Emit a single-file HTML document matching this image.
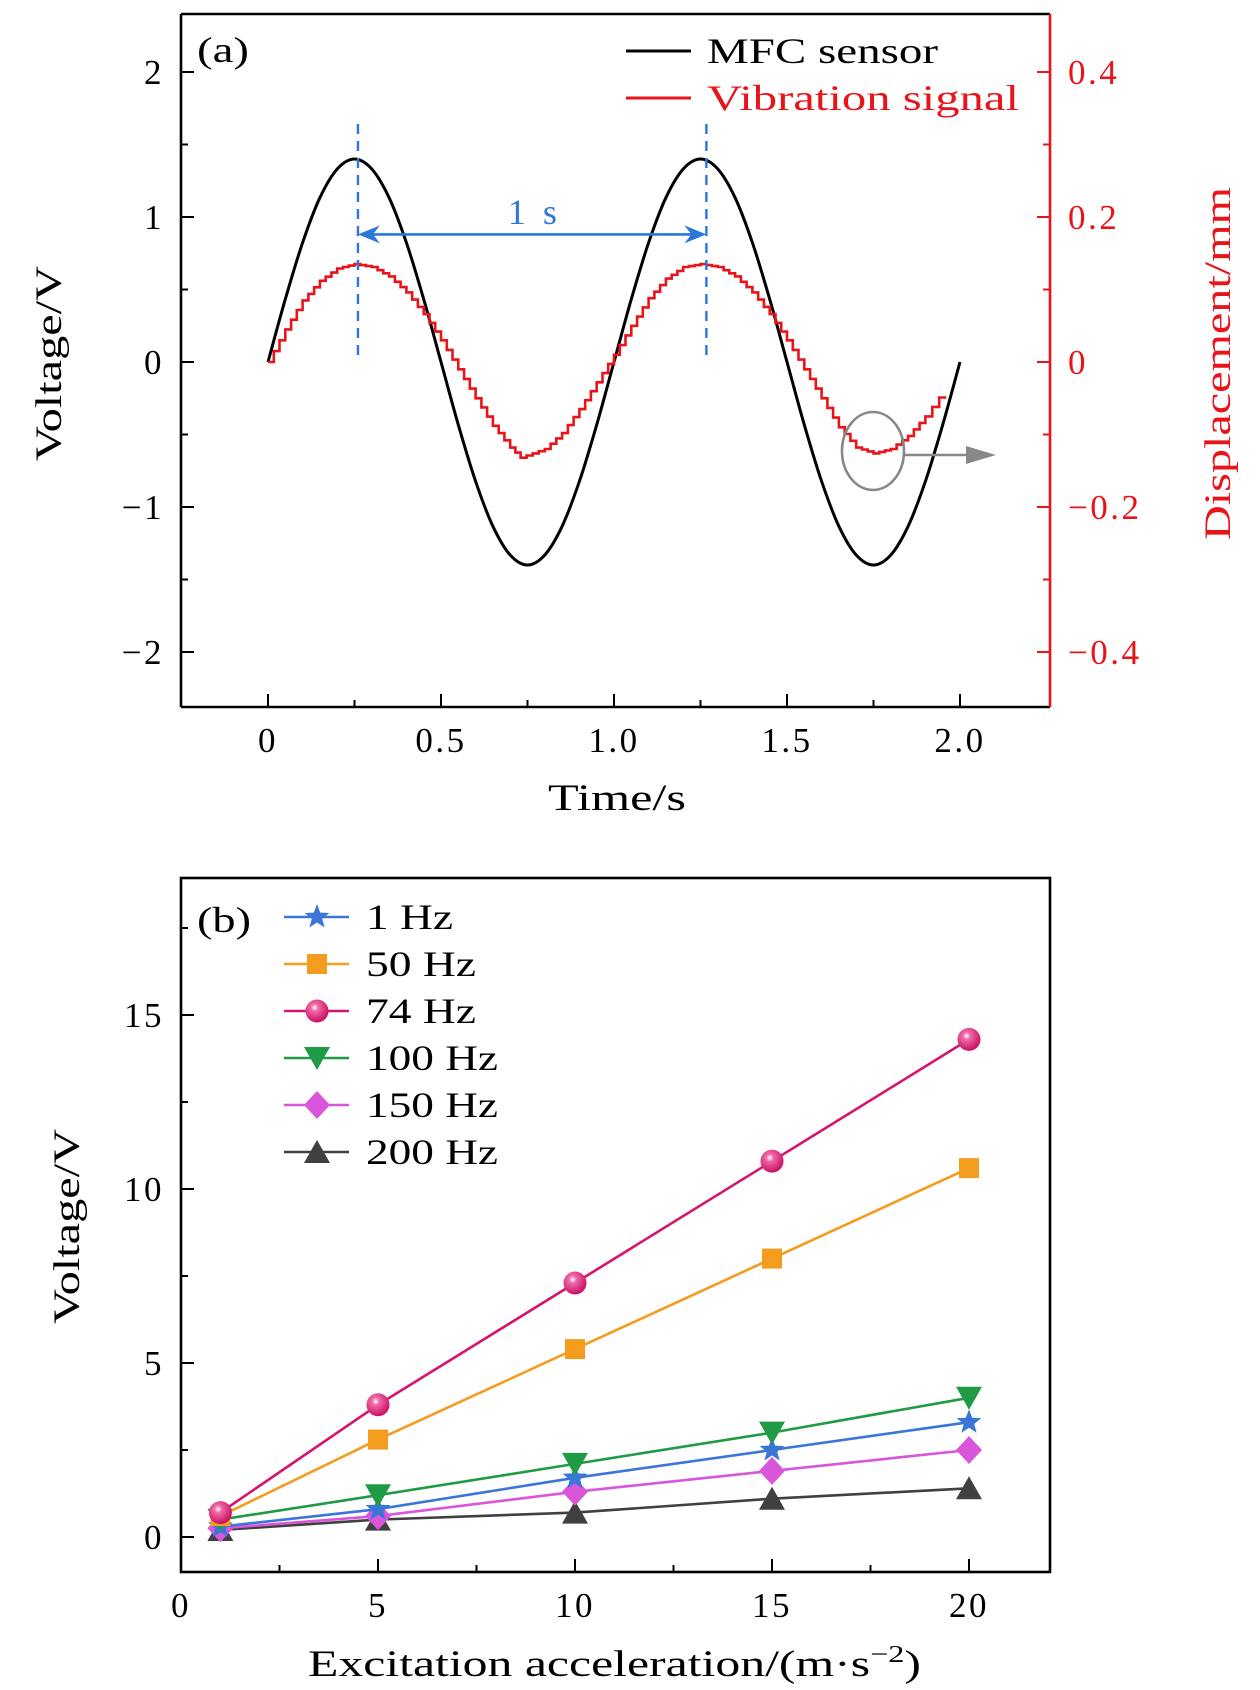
<!DOCTYPE html>
<html><head><meta charset="utf-8"><style>
html,body{margin:0;padding:0;background:#fff}
svg{display:block}
text{font-family:"Liberation Serif",serif}
</style></head><body>
<svg id="fig" width="1260" height="1690" viewBox="0 0 1260 1690" xmlns="http://www.w3.org/2000/svg">
<defs>
<radialGradient id="ball" cx="0.4" cy="0.35" r="0.65">
<stop offset="0" stop-color="#fff"/><stop offset="0.25" stop-color="#f06aa8"/><stop offset="1" stop-color="#c80f62"/>
</radialGradient>
</defs>
<g id="pa"></g>
<g id="pb"></g>
</svg>
<script>
// ---------- Panel (a) data ----------
const timeA = [0,0.05,0.1,0.15,0.2,0.25,0.3,0.35,0.4,0.45,0.5,0.55,0.6,0.65,0.7,0.75,0.8,0.85,0.9,0.95,1.0,1.05,1.1,1.15,1.2,1.25,1.3,1.35,1.4,1.45,1.5,1.55,1.6,1.65,1.7,1.75,1.8,1.85,1.9,1.95,2.0];
const mfcVoltage = [0,0.433,0.823,1.133,1.331,1.4,1.331,1.133,0.823,0.433,0,-0.433,-0.823,-1.133,-1.331,-1.4,-1.331,-1.133,-0.823,-0.433,0,0.433,0.823,1.133,1.331,1.4,1.331,1.133,0.823,0.433,0,-0.433,-0.823,-1.133,-1.331,-1.4,-1.331,-1.133,-0.823,-0.433,0];
const vibTime = [0,0.05,0.1,0.15,0.2,0.25,0.3,0.35,0.4,0.45,0.5,0.55,0.6,0.65,0.7,0.73,0.8,0.85,0.9,0.95,1.0,1.05,1.1,1.15,1.2,1.25,1.3,1.35,1.4,1.45,1.5,1.55,1.6,1.65,1.7,1.75,1.8,1.85,1.9,1.96];
const vibDisp = [0,0.045,0.085,0.112,0.129,0.135,0.131,0.118,0.096,0.066,0.03,-0.01,-0.05,-0.088,-0.118,-0.132,-0.12,-0.098,-0.065,-0.028,0.01,0.05,0.088,0.115,0.131,0.135,0.131,0.118,0.096,0.066,0.03,-0.01,-0.05,-0.09,-0.118,-0.126,-0.12,-0.102,-0.075,-0.036];
const xTicksA = [0,0.5,1.0,1.5,2.0];
const xTickLabelsA = ["0","0.5","1.0","1.5","2.0"];
const yTicksA = [-2,-1,0,1,2];
const yTickLabelsA = ["\u22122","\u22121","0","1","2"];
const rTicksA = [-0.4,-0.2,0,0.2,0.4];
const rTickLabelsA = ["\u22120.4","\u22120.2","0","0.2","0.4"];

// ---------- Panel (b) data ----------
const accel = [1,5,10,15,20];
const seriesNames = ["1 Hz","50 Hz","74 Hz","100 Hz","150 Hz","200 Hz"];
const v1Hz = [0.3,0.8,1.7,2.5,3.3];
const v50Hz = [0.6,2.8,5.4,8.0,10.6];
const v74Hz = [0.7,3.8,7.3,10.8,14.3];
const v100Hz = [0.5,1.2,2.1,3.0,4.0];
const v150Hz = [0.25,0.6,1.3,1.9,2.5];
const v200Hz = [0.2,0.5,0.7,1.1,1.4];
const xTicksB = [0,5,10,15,20];
const yTicksB = [0,5,10,15];

const NS="http://www.w3.org/2000/svg";
function mk(parent,tag,attrs,txt){const e=document.createElementNS(NS,tag);for(const k in attrs)e.setAttribute(k,attrs[k]);if(txt!==undefined)e.textContent=txt;parent.appendChild(e);return e;}
const TICKFS=35, TICKLS=2.5;

// ===== Panel A =====
const pa=document.getElementById('pa');
const AL=181,AR=1050,AT=14,AB=707;
const xa=t=>268+t*346;
const ya=v=>362-v*145;
const yr=d=>362-d*725;

const pts=timeA.map((t,i)=>[xa(t),ya(mfcVoltage[i])]);
let d='M'+pts[0][0].toFixed(1)+' '+pts[0][1].toFixed(1);
for(let i=0;i<pts.length-1;i++){
  const p0=pts[Math.max(0,i-1)],p1=pts[i],p2=pts[i+1],p3=pts[Math.min(pts.length-1,i+2)];
  const c1=[p1[0]+(p2[0]-p0[0])/6,p1[1]+(p2[1]-p0[1])/6];
  const c2=[p2[0]-(p3[0]-p1[0])/6,p2[1]-(p3[1]-p1[1])/6];
  d+=`C${c1[0].toFixed(1)} ${c1[1].toFixed(1)} ${c2[0].toFixed(1)} ${c2[1].toFixed(1)} ${p2[0].toFixed(1)} ${p2[1].toFixed(1)}`;
}
const mfc=mk(pa,'path',{d:d,fill:'none',stroke:'#000','stroke-width':3});


let dr='';
const stepPx=6;
let first=true;
for(let i=0;i<vibTime.length-1;i++){
  const x0=xa(vibTime[i]),x1=xa(vibTime[i+1]);
  const n=Math.max(1,Math.round((x1-x0)/stepPx));
  for(let k=0;k<n;k++){
    const f=k/n,f2=(k+1)/n;
    const xs=x0+(x1-x0)*f,xe=x0+(x1-x0)*f2;
    const yv=yr(vibDisp[i]+(vibDisp[i+1]-vibDisp[i])*f);
    if(first){dr+='M'+xs.toFixed(1)+' '+yv.toFixed(1);first=false;}
    else dr+='V'+yv.toFixed(1);
    dr+='H'+xe.toFixed(1);
  }
}
const vib=mk(pa,'path',{d:dr,fill:'none',stroke:'#e8141a','stroke-width':2.6});



const dash1=mk(pa,'line',{x1:xa(0.26),x2:xa(0.26),y1:124,y2:362,stroke:'#2a78d8','stroke-width':2.4,'stroke-dasharray':'10,7'});

const dash2=mk(pa,'line',{x1:xa(1.267),x2:xa(1.267),y1:124,y2:362,stroke:'#2a78d8','stroke-width':2.4,'stroke-dasharray':'10,7'});

const arr=mk(pa,'g',{});

const ax1=xa(0.26),ax2=xa(1.267),ay=ya(0.88);
mk(arr,'line',{x1:ax1+12,x2:ax2-12,y1:ay,y2:ay,stroke:'#2a78d8','stroke-width':2.6});
mk(arr,'path',{d:`M${ax1} ${ay} L${ax1+22} ${ay-9} L${ax1+15} ${ay} L${ax1+22} ${ay+9}Z`,fill:'#2a78d8'});
mk(arr,'path',{d:`M${ax2} ${ay} L${ax2-22} ${ay-9} L${ax2-15} ${ay} L${ax2-22} ${ay+9}Z`,fill:'#2a78d8'});
const lbl1s=mk(pa,'text',{x:xa(0.77),y:224,'font-size':36,fill:'#2a78d8','text-anchor':'middle','letter-spacing':4},'1 s');

const ell=mk(pa,'ellipse',{cx:873,cy:451,rx:31,ry:39,fill:'none',stroke:'#888','stroke-width':2.6});

const garr=mk(pa,'g',{});

mk(garr,'line',{x1:904,x2:970,y1:455,y2:455,stroke:'#888','stroke-width':2.6});
mk(garr,'path',{d:'M996 455 L966 446 L966 464Z',fill:'#888'});

mk(pa,'line',{x1:AL,y1:AT,x2:AR,y2:AT,stroke:'#000','stroke-width':2.6});
mk(pa,'line',{x1:AL,y1:AT,x2:AL,y2:AB,stroke:'#000','stroke-width':2.6});
mk(pa,'line',{x1:AL,y1:AB,x2:AR,y2:AB,stroke:'#000','stroke-width':2.6});
const raxis=mk(pa,'line',{x1:AR,y1:AT,x2:AR,y2:AB,stroke:'#e8141a','stroke-width':2.6});


xTicksA.forEach((t,i)=>{
  mk(pa,'line',{x1:xa(t),x2:xa(t),y1:AB,y2:AB-13,stroke:'#000','stroke-width':2});
  const tl=mk(pa,'text',{x:xa(t),y:752,'font-size':TICKFS,'letter-spacing':TICKLS,'text-anchor':'middle'},xTickLabelsA[i]);
  
  if(i<xTicksA.length-1) mk(pa,'line',{x1:xa(t+0.25),x2:xa(t+0.25),y1:AB,y2:AB-7,stroke:'#000','stroke-width':2});
});
yTicksA.forEach((v,i)=>{
  mk(pa,'line',{x1:AL,x2:AL+13,y1:ya(v),y2:ya(v),stroke:'#000','stroke-width':2});
  const tl=mk(pa,'text',{x:164,y:ya(v)+12,'font-size':TICKFS,'letter-spacing':TICKLS,'text-anchor':'end'},yTickLabelsA[i]);
  
});
for(let v=-1.5;v<=2.01;v+=1){ mk(pa,'line',{x1:AL,x2:AL+7,y1:ya(v),y2:ya(v),stroke:'#000','stroke-width':2}); }
rTicksA.forEach((v,i)=>{
  mk(pa,'line',{x1:AR,x2:AR-13,y1:yr(v),y2:yr(v),stroke:'#e8141a','stroke-width':2});
  const tl=mk(pa,'text',{x:1068,y:yr(v)+12,'font-size':TICKFS,'letter-spacing':TICKLS,fill:'#e8141a'},rTickLabelsA[i]);
  
});
[-0.3,-0.1,0.1,0.3].forEach(v=>mk(pa,'line',{x1:AR,x2:AR-7,y1:yr(v),y2:yr(v),stroke:'#e8141a','stroke-width':2}));

const pal=mk(pa,'text',{x:197,y:62,'font-size':36,textLength:52,lengthAdjust:'spacingAndGlyphs'},'(a)');

const xt=mk(pa,'text',{x:548,y:810,'font-size':37,textLength:138,lengthAdjust:'spacingAndGlyphs'},'Time/s');

const yt=mk(pa,'text',{x:0,y:0,'font-size':37,textLength:195,lengthAdjust:'spacingAndGlyphs',transform:'translate(61,461) rotate(-90)'},'Voltage/V');

const rt=mk(pa,'text',{x:0,y:0,'font-size':37,fill:'#e8141a',textLength:353,lengthAdjust:'spacingAndGlyphs',transform:'translate(1230,540) rotate(-90)'},'Displacement/mm');

const lg1=mk(pa,'g',{});
mk(lg1,'line',{x1:626,x2:691,y1:51,y2:51,stroke:'#000','stroke-width':3});
mk(lg1,'text',{x:707,y:63,'font-size':36,textLength:231,lengthAdjust:'spacingAndGlyphs'},'MFC sensor');
const lg2=mk(pa,'g',{});
mk(lg2,'line',{x1:626,x2:691,y1:98,y2:98,stroke:'#e8141a','stroke-width':3});
mk(lg2,'text',{x:707,y:110,'font-size':36,fill:'#e8141a',textLength:312,lengthAdjust:'spacingAndGlyphs'},'Vibration signal');

// ===== Panel B =====
const pb=document.getElementById('pb');
const BL=181,BR=1050,BT=878,BB=1572;
const xb=a=>181+a*39.4;
const yb=v=>1537-v*34.8;
const colors=['#3a75d8','#f39c1e','#d4146e','#1f9a45','#d955d9','#404040'];
const shapes=['star','square','ball','tridown','diamond','triup'];
const allSeries=[v1Hz,v50Hz,v74Hz,v100Hz,v150Hz,v200Hz];

function marker(g,shape,x,y,c){
  if(shape==='star'){let p='';for(let k=0;k<10;k++){const r=k%2?5.5:13;const a=-Math.PI/2+k*Math.PI/5;p+=(k?'L':'M')+(x+r*Math.cos(a)).toFixed(1)+' '+(y+r*Math.sin(a)).toFixed(1);}mk(g,'path',{d:p+'Z',fill:c});}
  else if(shape==='square') mk(g,'rect',{x:x-10,y:y-10,width:20,height:20,fill:c});
  else if(shape==='ball') mk(g,'circle',{cx:x,cy:y,r:11.5,fill:'url(#ball)'});
  else if(shape==='tridown') mk(g,'path',{d:`M${x-13} ${y-11}L${x+13} ${y-11}L${x} ${y+12}Z`,fill:c});
  else if(shape==='triup') mk(g,'path',{d:`M${x-13} ${y+11}L${x+13} ${y+11}L${x} ${y-12}Z`,fill:c});
  else if(shape==='diamond') mk(g,'path',{d:`M${x} ${y-14}L${x+13} ${y}L${x} ${y+14}L${x-13} ${y}Z`,fill:c});
}
[5,4,0,3,1,2].forEach(si=>{
  const g=mk(pb,'g',{});
  
  
  let p='';
  accel.forEach((a,i)=>{p+=(i?'L':'M')+xb(a).toFixed(1)+' '+yb(allSeries[si][i]).toFixed(1);});
  mk(g,'path',{d:p,fill:'none',stroke:colors[si],'stroke-width':2.6});
  accel.forEach((a,i)=>marker(g,shapes[si],xb(a),yb(allSeries[si][i]),colors[si]));
});
mk(pb,'rect',{x:BL,y:BT,width:BR-BL,height:BB-BT,fill:'none',stroke:'#000','stroke-width':2.6});
xTicksB.forEach((t,i)=>{
  mk(pb,'line',{x1:xb(t),x2:xb(t),y1:BB,y2:BB-13,stroke:'#000','stroke-width':2});
  if(i<xTicksB.length-1) mk(pb,'line',{x1:xb(t+2.5),x2:xb(t+2.5),y1:BB,y2:BB-7,stroke:'#000','stroke-width':2});
  const tl=mk(pb,'text',{x:xb(t),y:1617,'font-size':TICKFS,'letter-spacing':TICKLS,'text-anchor':'middle'},String(t));
  
});
yTicksB.forEach(v=>{
  mk(pb,'line',{x1:BL,x2:BL+13,y1:yb(v),y2:yb(v),stroke:'#000','stroke-width':2});
  mk(pb,'line',{x1:BL,x2:BL+7,y1:yb(v+2.5),y2:yb(v+2.5),stroke:'#000','stroke-width':2});
  const tl=mk(pb,'text',{x:164,y:yb(v)+12,'font-size':TICKFS,'letter-spacing':TICKLS,'text-anchor':'end'},String(v));
  
});
const pbl=mk(pb,'text',{x:197,y:932,'font-size':36,textLength:54,lengthAdjust:'spacingAndGlyphs'},'(b)');

const xtb=mk(pb,'text',{x:308,y:1676,'font-size':37,textLength:613,lengthAdjust:'spacingAndGlyphs'});

xtb.innerHTML='Excitation acceleration/(m·s<tspan dy="-14" font-size="24">−2</tspan><tspan dy="14">)</tspan>';
const ytb=mk(pb,'text',{x:0,y:0,'font-size':37,textLength:195,lengthAdjust:'spacingAndGlyphs',transform:'translate(79,1324) rotate(-90)'},'Voltage/V');

const legRows=[917,964,1011,1058,1105,1152];
const legLens=[87,110,110,132,132,132];
seriesNames.forEach((n,i)=>{
  const g=mk(pb,'g',{});
  
  
  mk(g,'line',{x1:284,x2:349,y1:legRows[i],y2:legRows[i],stroke:colors[i],'stroke-width':2.6});
  marker(g,shapes[i],317,legRows[i],colors[i]);
  mk(g,'text',{x:366,y:legRows[i]+12,'font-size':36,textLength:legLens[i],lengthAdjust:'spacingAndGlyphs'},n);
});
</script>
</body></html>
